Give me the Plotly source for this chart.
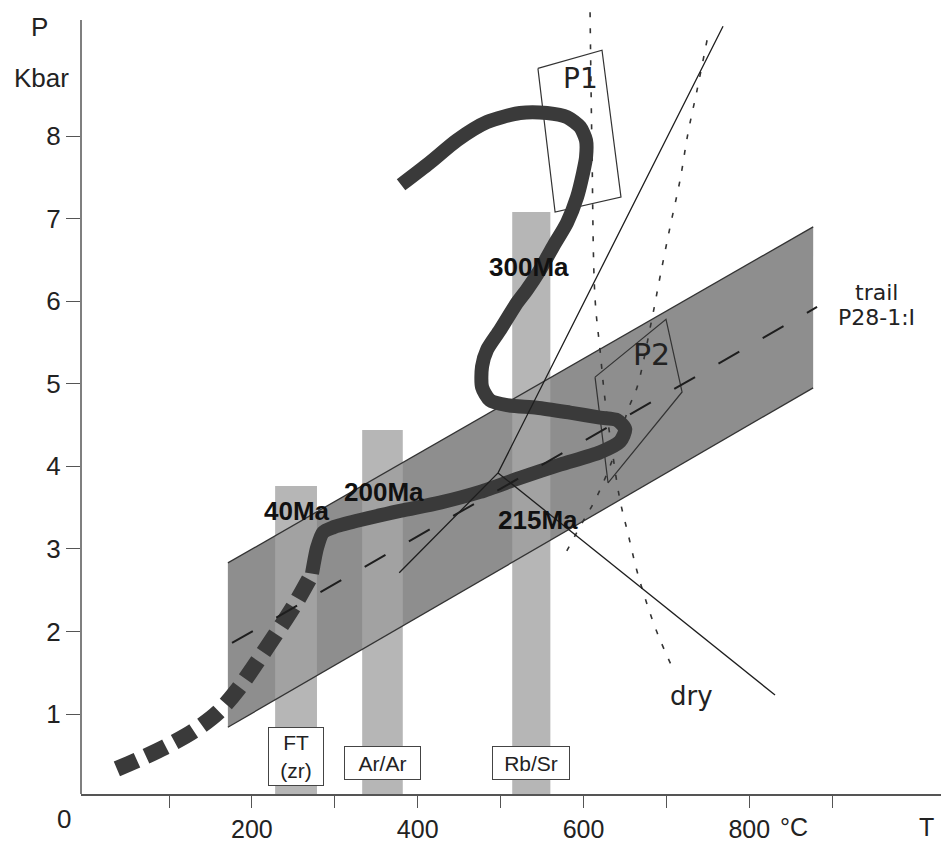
import plotly.graph_objects as go

# ---------------- data ----------------
x_tick_vals = [100, 200, 300, 400, 500, 600, 700, 800, 900]
x_tick_text = ["", "200", "", "400", "", "600", "", "800", ""]
y_tick_vals = [1, 2, 3, 4, 5, 6, 7, 8]
y_tick_text = ["1", "2", "3", "4", "5", "6", "7", "8"]

# grey P-T band
band_T = [171, 877]
band_upper_P = [2.83, 6.90]
band_lower_P = [0.84, 4.95]

# geochronometer closure bars
bar_names = ["FT<br>(zr)", "Ar/Ar", "Rb/Sr"]
bar_T_min = [228, 333, 514]
bar_T_max = [278.5, 382, 560]
bar_P_top = [3.76, 4.44, 7.08]
bar_label_P = [0.486, 0.41, 0.41]
bar_label_w = [50, 71, 72]
bar_label_h = [53, 28, 28]

# P-T path (solid part)
path_T = [379.9, 414.8, 447.4, 483.6, 523.4, 556.0, 580.1, 595.8, 603.0, 603.0,
          599.4, 592.2, 580.1, 563.2, 547.5, 531.8, 519.8, 499.3, 483.6, 477.6,
          477.6, 487.2, 507.7, 543.9, 583.7, 620.0, 640.5, 650.3, 644.0, 620.0,
          571.7, 523.4, 475.2, 426.9, 378.7, 326.8, 297.9, 285.8, 278.5, 273.7,
          272.5]
path_P = [7.41, 7.68, 7.95, 8.17, 8.28, 8.28, 8.23, 8.11, 7.95, 7.74,
          7.55, 7.26, 6.95, 6.66, 6.38, 6.14, 5.98, 5.65, 5.41, 5.21,
          4.96, 4.80, 4.74, 4.71, 4.65, 4.59, 4.56, 4.45, 4.30, 4.17,
          4.02, 3.86, 3.69, 3.56, 3.46, 3.34, 3.26, 3.20, 3.01, 2.77,
          2.70]
# P-T path (dashed, inferred part)
path_dash_T = [268.9, 252.0, 230.3, 206.2, 183.2, 159.1, 129.0, 95.2, 61.4, 28.8]
path_dash_P = [2.63, 2.33, 1.99, 1.63, 1.30, 1.02, 0.79, 0.60, 0.44, 0.30]

# trail P28-1:I (dashed line)
trail_T = [176.0, 881.7]
trail_P = [1.86, 5.93]

# reaction lines
react1_T = [377.7, 496.9, 768.3]
react1_P = [2.71, 3.92, 9.33]
react2_T = [496.9, 831.0]
react2_P = [3.92, 1.23]

# dotted curves
dot1_T = [607.9, 610.2, 613.8, 619.9, 625.9, 634.4, 644.0, 654.0, 664.0, 675.0, 689.0, 706.8]
dot1_P = [9.50, 7.83, 6.05, 5.41, 4.81, 4.20, 3.59, 3.17, 2.75, 2.38, 1.98, 1.57]
dot2_T = [749.0, 737.0, 726.1, 716.5, 704.4, 692.4, 682.8, 664.7, 653.8, 638.2, 616.4, 595.8, 575.3]
dot2_P = [9.16, 8.56, 8.04, 7.47, 6.90, 6.30, 5.80, 4.96, 4.69, 4.17, 3.64, 3.27, 2.89]

# P1 and P2 fields
p1_T = [545.0, 622.3, 645.2, 565.7]
p1_P = [8.82, 9.04, 7.26, 7.08]
p2_T = [613.9, 699.5, 718.9, 629.6]
p2_P = [5.08, 5.78, 4.90, 3.80]

# age labels
age_text = ["300Ma", "200Ma", "40Ma", "215Ma"]
age_T = [534.3, 359.3, 253.8, 544.5]
age_P = [6.42, 3.69, 3.46, 3.35]

# other labels
misc_text = ["P1", "P2", "dry", "trail", "P28-1:I"]
misc_T = [595.9, 681.5, 730.3, 952.8, 952.8]
misc_P = [8.70, 5.35, 1.22, 6.10, 5.80]
misc_size = [28, 30, 26, 22, 22]

X_RANGE = [-6.15, 1031.2]
Y_RANGE = [0.031, 9.551]
Y_AXIS_TOP = 9.405

# ---------------- figure ----------------
fig = go.Figure()

BAND_COLOR = "rgb(142,142,142)"
BAR_COLOR = "rgba(166,166,166,0.82)"
INK = "#1e1e1e"

# band
fig.add_trace(go.Scatter(
    x=band_T + band_T[::-1] + [band_T[0]],
    y=band_upper_P + band_lower_P[::-1] + [band_upper_P[0]],
    mode="lines", fill="toself", fillcolor=BAND_COLOR,
    line=dict(width=0, color=BAND_COLOR), hoverinfo="skip"))

# bars
for i in range(len(bar_names)):
    fig.add_trace(go.Scatter(
        x=[bar_T_min[i], bar_T_max[i], bar_T_max[i], bar_T_min[i], bar_T_min[i]],
        y=[0, 0, bar_P_top[i], bar_P_top[i], 0],
        mode="lines", fill="toself", fillcolor=BAR_COLOR,
        line=dict(width=0, color=BAR_COLOR), hoverinfo="skip"))

# band edges
for edge in (band_upper_P, band_lower_P):
    fig.add_trace(go.Scatter(x=band_T, y=edge, mode="lines",
                             line=dict(color="#333", width=1.3), hoverinfo="skip"))

# dotted curves
for tx, py in ((dot1_T, dot1_P), (dot2_T, dot2_P)):
    fig.add_trace(go.Scatter(x=tx, y=py, mode="lines",
                             line=dict(color="#333", width=1.6, dash="5px,11px",
                                       shape="spline", smoothing=1.0),
                             hoverinfo="skip"))

# P1, P2 fields
for tx, py in ((p1_T, p1_P), (p2_T, p2_P)):
    fig.add_trace(go.Scatter(x=tx + [tx[0]], y=py + [py[0]], mode="lines",
                             line=dict(color="#333", width=1.2), hoverinfo="skip"))

# P-T path
fig.add_trace(go.Scatter(x=path_T, y=path_P, mode="lines",
                         line=dict(color="#3a3a3a", width=14, shape="spline", smoothing=0.7),
                         hoverinfo="skip"))
fig.add_trace(go.Scatter(x=path_dash_T, y=path_dash_P, mode="lines",
                         line=dict(color="#3a3a3a", width=16, dash="22px,10px",
                                   shape="spline", smoothing=0.8),
                         hoverinfo="skip"))

# reaction lines
for tx, py in ((react1_T, react1_P), (react2_T, react2_P)):
    fig.add_trace(go.Scatter(x=tx, y=py, mode="lines",
                             line=dict(color=INK, width=1.3), hoverinfo="skip"))

# trail dashed line
fig.add_trace(go.Scatter(x=trail_T, y=trail_P, mode="lines",
                         line=dict(color=INK, width=2, dash="24px,27px"),
                         hoverinfo="skip"))

annotations = []
for t, xx, yy in zip(age_text, age_T, age_P):
    annotations.append(dict(x=xx, y=yy, xref="x", yref="y", text="<b>" + t + "</b>",
                            showarrow=False,
                            font=dict(family="Liberation Sans", size=26, color="#111"),
                            xanchor="center", yanchor="middle"))
for t, xx, yy, s in zip(misc_text, misc_T, misc_P, misc_size):
    annotations.append(dict(x=xx, y=yy, xref="x", yref="y", text=t, showarrow=False,
                            font=dict(family="DejaVu Sans", size=s, color="#222"),
                            xanchor="center", yanchor="middle"))
for i, name in enumerate(bar_names):
    annotations.append(dict(x=(bar_T_min[i] + bar_T_max[i]) / 2, y=bar_label_P[i],
                            xref="x", yref="y", text=name, showarrow=False,
                            width=bar_label_w[i], height=bar_label_h[i],
                            bgcolor="white", bordercolor="#444", borderwidth=1, borderpad=2,
                            font=dict(family="Liberation Sans", size=21, color="#222"),
                            xanchor="center", yanchor="middle"))
# axis texts
axis_font = dict(family="Liberation Sans", size=26, color="#222")
bottom_font = dict(family="Liberation Sans", size=25, color="#222")
annotations += [
    dict(x=-0.0477, y=0.9758, xref="paper", yref="paper", text="P", showarrow=False,
         font=axis_font, xanchor="center", yanchor="middle"),
    dict(x=-0.0465, y=0.911, xref="paper", yref="paper", text="Kbar", showarrow=False,
         font=axis_font, xanchor="center", yanchor="middle"),
    dict(x=-0.0192, y=-0.0312, xref="paper", yref="paper", text="0", showarrow=False,
         font=axis_font, xanchor="center", yanchor="middle"),
    dict(x=0.9826, y=-0.0420, xref="paper", yref="paper", text="T", showarrow=False,
         font=bottom_font, xanchor="center", yanchor="middle"),
    dict(x=853.3, y=-0.0420, xref="x", yref="paper", text="°C", showarrow=False,
         font=bottom_font, xanchor="center", yanchor="middle"),
]

fig.update_layout(
    width=941, height=843,
    margin=dict(l=81, r=0, t=8, b=49, autoexpand=False),
    plot_bgcolor="white", paper_bgcolor="white",
    showlegend=False,
    annotations=annotations,
    shapes=[dict(type="line", xref="paper", x0=0, x1=0, yref="y",
                 y0=Y_RANGE[0], y1=Y_AXIS_TOP, line=dict(color="#555", width=1.5))],
    xaxis=dict(range=X_RANGE, showgrid=False, zeroline=False, showline=True,
               linecolor="#555", linewidth=1.5, tickvals=x_tick_vals, ticktext=x_tick_text,
               ticks="outside", ticklen=12, tickwidth=1.3, tickcolor="#555",
               tickfont=bottom_font, automargin=False, fixedrange=True),
    yaxis=dict(range=Y_RANGE, showgrid=False, zeroline=False, showline=False,
               tickvals=y_tick_vals, ticktext=y_tick_text,
               ticks="outside", ticklen=14, tickwidth=1.3, tickcolor="#555",
               tickfont=axis_font, automargin=False, fixedrange=True),
)

fig.write_html("out.html", config={"displayModeBar": False},
               post_script="document.body.style.margin='0';document.body.style.overflow='hidden';")
